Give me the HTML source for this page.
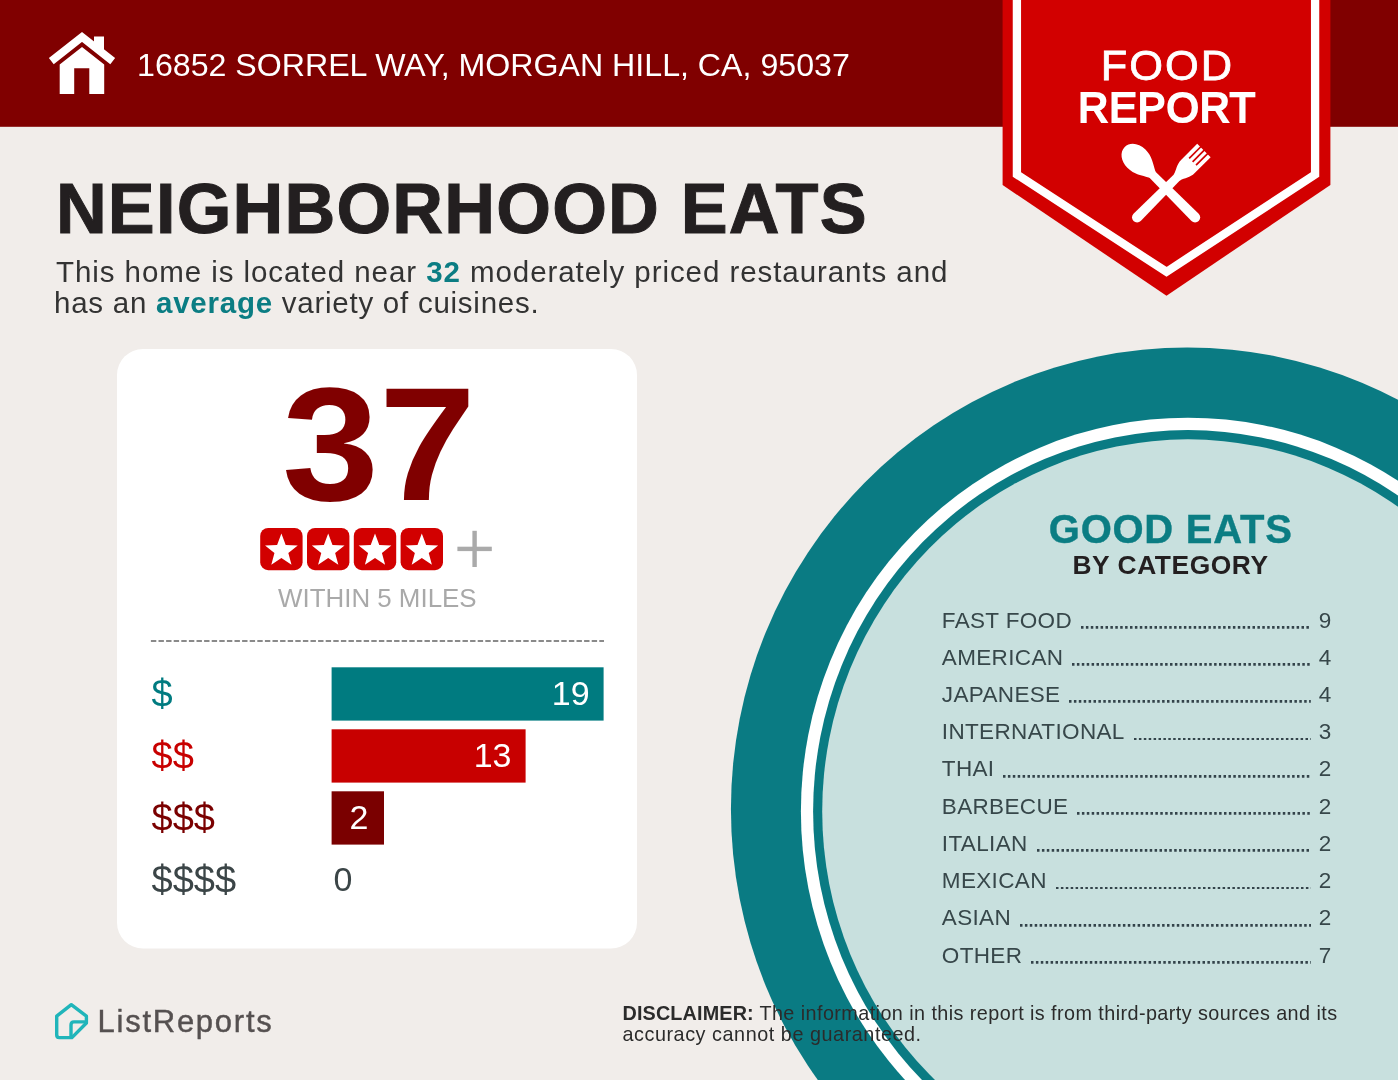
<!DOCTYPE html>
<html lang="en"><head><meta charset="utf-8"><title>Neighborhood Eats - Food Report</title>
<style>
*{margin:0;padding:0;box-sizing:border-box}
html,body{width:1398px;height:1080px;overflow:hidden;background:#f1edea}
body{position:relative;font-family:"Liberation Sans",sans-serif}
.t{position:absolute;white-space:nowrap}
.abs{position:absolute}
.row{position:absolute;left:941.8px;width:389.5px;display:flex;font-size:22.5px;line-height:22.5px;color:#37474a;white-space:nowrap}
.row span:first-child{letter-spacing:0.35px}
.row .ld{flex:1;height:2.8px;align-self:flex-end;margin:0 7.5px 3.3px 9px;overflow:hidden}
.row .ld line{stroke:#33434a;stroke-width:2.8;stroke-dasharray:2.5 2.4}
</style></head><body>
<svg class="abs" style="left:0;top:0" width="1398" height="1080" viewBox="0 0 1398 1080">
<rect x="0" y="0" width="1398" height="126.8" fill="#800000"/>
<ellipse cx="1187.25" cy="809.08" rx="456.32" ry="461.5" fill="#0a7b83"/>
<ellipse cx="1187.92" cy="811.32" rx="387.02" ry="393.65" fill="#ffffff"/>
<ellipse cx="1187.92" cy="811.32" rx="374.81" ry="381.23" fill="#0a7b83"/>
<ellipse cx="1187.92" cy="811.32" rx="365.72" ry="371.98" fill="#c8e0de"/>
<!-- badge -->
<polygon points="1002.6,0 1330.4,0 1330.4,185 1166.5,295.7 1002.6,185" fill="#d20000"/>
<polyline points="1016.9,-5 1016.9,174.5 1166.5,271.85 1315.1,174.5 1315.1,-5" fill="none" stroke="#ffffff" stroke-width="8.3"/>
<!-- house -->
<g fill="#ffffff">
<polyline points="51.3,61.1 82,36.9 112.7,61.1" fill="none" stroke="#ffffff" stroke-width="7.8"/>
<polygon points="94,36.4 104,36.4 104,53 94,45"/>
<path d="M59.7 94.1 V64.4 L82 47 L104.2 64.4 V94.1 H89.3 V68.2 H74.2 V94.1 Z"/>
</g>
<!-- spoon and fork -->
<g fill="#ffffff">
<g transform="translate(1166.1,188.3) rotate(-45)">
<path d="M0 -58.5 C7.5 -58.5 12.8 -51 12.8 -42 C12.8 -32 8 -27 4.2 -19 L-4.2 -19 C-8 -27 -12.8 -32 -12.8 -42 C-12.8 -51 -7.5 -58.5 0 -58.5 Z"/>
<path d="M-4.2 -21 L4.2 -21 L5.1 41 A5.1 5.1 0 0 1 -5.1 41 Z"/>
</g>
<g transform="translate(1166.1,188.3) rotate(45)">
<path d="M-4.2 -17 L4.2 -17 L5.1 41 A5.1 5.1 0 0 1 -5.1 41 Z"/>
<path d="M-9.5 -53.5 H9.5 V-31 C9.5 -24 6 -21 4.2 -15 H-4.2 C-6 -21 -9.5 -24 -9.5 -31 Z"/>
<g fill="#d20000"><rect x="-5.7" y="-55" width="1.7" height="17.5"/><rect x="-0.85" y="-55" width="1.7" height="17.5"/><rect x="4" y="-55" width="1.7" height="17.5"/></g>
</g>
</g>
<!-- card -->
<rect x="117" y="349" width="520" height="599.5" rx="26" ry="26" fill="#ffffff"/>
<line x1="150.9" y1="640.9" x2="604" y2="640.9" stroke="#8a8a8a" stroke-width="2" stroke-dasharray="5.4 2.2"/>
<rect x="331.6" y="667.3" width="272" height="53.3" fill="#007b80"/>
<rect x="331.6" y="729.3" width="194" height="53.3" fill="#c80000"/>
<rect x="331.6" y="791.3" width="52.4" height="53.3" fill="#7a0000"/>
<!-- stars -->
<rect x="260.2" y="528" width="42.4" height="42.2" rx="8" ry="8" fill="#d20000"/>
<polygon points="281.40,533.60 285.69,544.89 297.76,545.48 288.34,553.06 291.51,564.72 281.40,558.10 271.29,564.72 274.46,553.06 265.04,545.48 277.11,544.89" fill="#ffffff"/>
<rect x="307.0" y="528" width="42.4" height="42.2" rx="8" ry="8" fill="#d20000"/>
<polygon points="328.20,533.60 332.49,544.89 344.56,545.48 335.14,553.06 338.31,564.72 328.20,558.10 318.09,564.72 321.26,553.06 311.84,545.48 323.91,544.89" fill="#ffffff"/>
<rect x="353.8" y="528" width="42.4" height="42.2" rx="8" ry="8" fill="#d20000"/>
<polygon points="375.00,533.60 379.29,544.89 391.36,545.48 381.94,553.06 385.11,564.72 375.00,558.10 364.89,564.72 368.06,553.06 358.64,545.48 370.71,544.89" fill="#ffffff"/>
<rect x="400.6" y="528" width="42.4" height="42.2" rx="8" ry="8" fill="#d20000"/>
<polygon points="421.80,533.60 426.09,544.89 438.16,545.48 428.74,553.06 431.91,564.72 421.80,558.10 411.69,564.72 414.86,553.06 405.44,545.48 417.51,544.89" fill="#ffffff"/>
<rect x="457.4" y="546.7" width="34.4" height="4.4" fill="#aaaaaa"/>
<rect x="472.4" y="530.8" width="4.4" height="36.2" fill="#aaaaaa"/>
<!-- logo -->
<g fill="none" stroke="#20b5ba" stroke-width="3.4" stroke-linejoin="round" stroke-linecap="round">
<path d="M71.3 1004.7 L56.7 1016.2 V1035.1 Q56.7 1037.6 59.2 1037.6 H71.9 L86.4 1023 V1016.2 Z"/>
<path d="M84.5 1021.9 H74 Q71 1021.9 71 1024.9 V1036"/>
</g>
</svg>
<div class="t" id="addr" style="left:137px;top:48.59px;font-size:32.15px;line-height:32.15px;color:#ffffff;">16852 SORREL WAY, MORGAN HILL, CA, 95037</div>
<div class="t" id="title" style="left:55.9px;top:173.89px;font-size:70.3px;line-height:70.3px;color:#231f20;font-weight:700;letter-spacing:1.2px;-webkit-text-stroke:1px #231f20;">NEIGHBORHOOD EATS</div>
<div class="t" id="sub1" style="left:56px;top:257.03px;font-size:29.5px;line-height:29.5px;color:#333333;letter-spacing:0.93px;">This home is located near <b style="color:#0b7d83">32</b> moderately priced restaurants and</div>
<div class="t" id="sub2" style="left:54px;top:287.73px;font-size:29.5px;line-height:29.5px;color:#333333;letter-spacing:0.75px;">has an <b style="color:#0b7d83">average</b> variety of cuisines.</div>
<div class="t" id="food" style="left:767.3px;width:800px;text-align:center;top:43.96px;font-size:43.4px;line-height:43.4px;color:#ffffff;letter-spacing:2px;-webkit-text-stroke:0.8px #fff;">FOOD</div>
<div class="t" id="report" style="left:767.2px;width:800px;text-align:center;top:86.69px;font-size:41.6px;line-height:41.6px;color:#ffffff;letter-spacing:0.9px;-webkit-text-stroke:2.2px #fff;">REPORT</div>
<div class="t" id="n37" style="left:-21.399999999999977px;width:800px;text-align:center;top:363.47px;font-size:162px;line-height:162px;color:#800000;font-weight:700;transform:scaleX(1.076);">37</div>
<div class="t" id="within" style="left:-22.69999999999999px;width:800px;text-align:center;top:586.28px;font-size:25.9px;line-height:25.9px;color:#a9a9a9;">WITHIN 5 MILES</div>
<div class="t" id="d0" style="left:151.5px;top:674.83px;font-size:38px;line-height:38px;color:#007b80;">$</div>
<div class="t" id="d1" style="left:151.5px;top:736.83px;font-size:38px;line-height:38px;color:#c80000;">$$</div>
<div class="t" id="d2" style="left:151.5px;top:798.83px;font-size:38px;line-height:38px;color:#7a0000;">$$$</div>
<div class="t" id="d3" style="left:151.5px;top:860.83px;font-size:38px;line-height:38px;color:#3b4547;">$$$$</div>
<div class="t" id="v0" style="right:808.4px;text-align:right;top:676.22px;font-size:34px;line-height:34px;color:#ffffff;">19</div>
<div class="t" id="v1" style="right:886.5px;text-align:right;top:738.22px;font-size:34px;line-height:34px;color:#ffffff;">13</div>
<div class="t" id="v2" style="right:1029.6px;text-align:right;top:800.22px;font-size:34px;line-height:34px;color:#ffffff;">2</div>
<div class="t" id="v3" style="left:333.6px;top:862.22px;font-size:34px;line-height:34px;color:#3b4547;">0</div>
<div class="t" id="ge" style="left:770.7px;width:800px;text-align:center;top:508.84px;font-size:40px;line-height:40px;color:#0b7d83;font-weight:700;letter-spacing:0.75px;-webkit-text-stroke:0.4px #0b7d83;">GOOD EATS</div>
<div class="t" id="bc" style="left:770.5px;width:800px;text-align:center;top:551.65px;font-size:26.4px;line-height:26.4px;color:#231f20;font-weight:700;letter-spacing:0.55px;">BY CATEGORY</div>
<div class="row" id="r0" style="top:609.55px"><span id="c0">FAST FOOD</span><svg class="ld"><line x1="0" y1="1.4" x2="100%" y2="1.4"/></svg><span id="n0">9</span></div>
<div class="row" id="r1" style="top:646.78px"><span id="c1">AMERICAN</span><svg class="ld"><line x1="0" y1="1.4" x2="100%" y2="1.4"/></svg><span id="n1">4</span></div>
<div class="row" id="r2" style="top:684.01px"><span id="c2">JAPANESE</span><svg class="ld"><line x1="0" y1="1.4" x2="100%" y2="1.4"/></svg><span id="n2">4</span></div>
<div class="row" id="r3" style="top:721.24px"><span id="c3">INTERNATIONAL</span><svg class="ld"><line x1="0" y1="1.4" x2="100%" y2="1.4"/></svg><span id="n3">3</span></div>
<div class="row" id="r4" style="top:758.47px"><span id="c4">THAI</span><svg class="ld"><line x1="0" y1="1.4" x2="100%" y2="1.4"/></svg><span id="n4">2</span></div>
<div class="row" id="r5" style="top:795.70px"><span id="c5">BARBECUE</span><svg class="ld"><line x1="0" y1="1.4" x2="100%" y2="1.4"/></svg><span id="n5">2</span></div>
<div class="row" id="r6" style="top:832.93px"><span id="c6">ITALIAN</span><svg class="ld"><line x1="0" y1="1.4" x2="100%" y2="1.4"/></svg><span id="n6">2</span></div>
<div class="row" id="r7" style="top:870.16px"><span id="c7">MEXICAN</span><svg class="ld"><line x1="0" y1="1.4" x2="100%" y2="1.4"/></svg><span id="n7">2</span></div>
<div class="row" id="r8" style="top:907.39px"><span id="c8">ASIAN</span><svg class="ld"><line x1="0" y1="1.4" x2="100%" y2="1.4"/></svg><span id="n8">2</span></div>
<div class="row" id="r9" style="top:944.62px"><span id="c9">OTHER</span><svg class="ld"><line x1="0" y1="1.4" x2="100%" y2="1.4"/></svg><span id="n9">7</span></div>
<div class="t" id="dis1" style="left:622.5px;top:1004.04px;font-size:19.8px;line-height:19.8px;color:#2b2b2b;letter-spacing:0.43px;"><b style="letter-spacing:0.15px">DISCLAIMER:</b> The information in this report is from third-party sources and its</div>
<div class="t" id="dis2" style="left:622.5px;top:1024.74px;font-size:19.8px;line-height:19.8px;color:#2b2b2b;letter-spacing:0.55px;">accuracy cannot be guaranteed.</div>
<div class="t" id="logo" style="left:97.5px;top:1006.26px;font-size:31px;line-height:31px;color:#555050;letter-spacing:1.75px;-webkit-text-stroke:0.4px #555050;">ListReports</div>
</body></html>
